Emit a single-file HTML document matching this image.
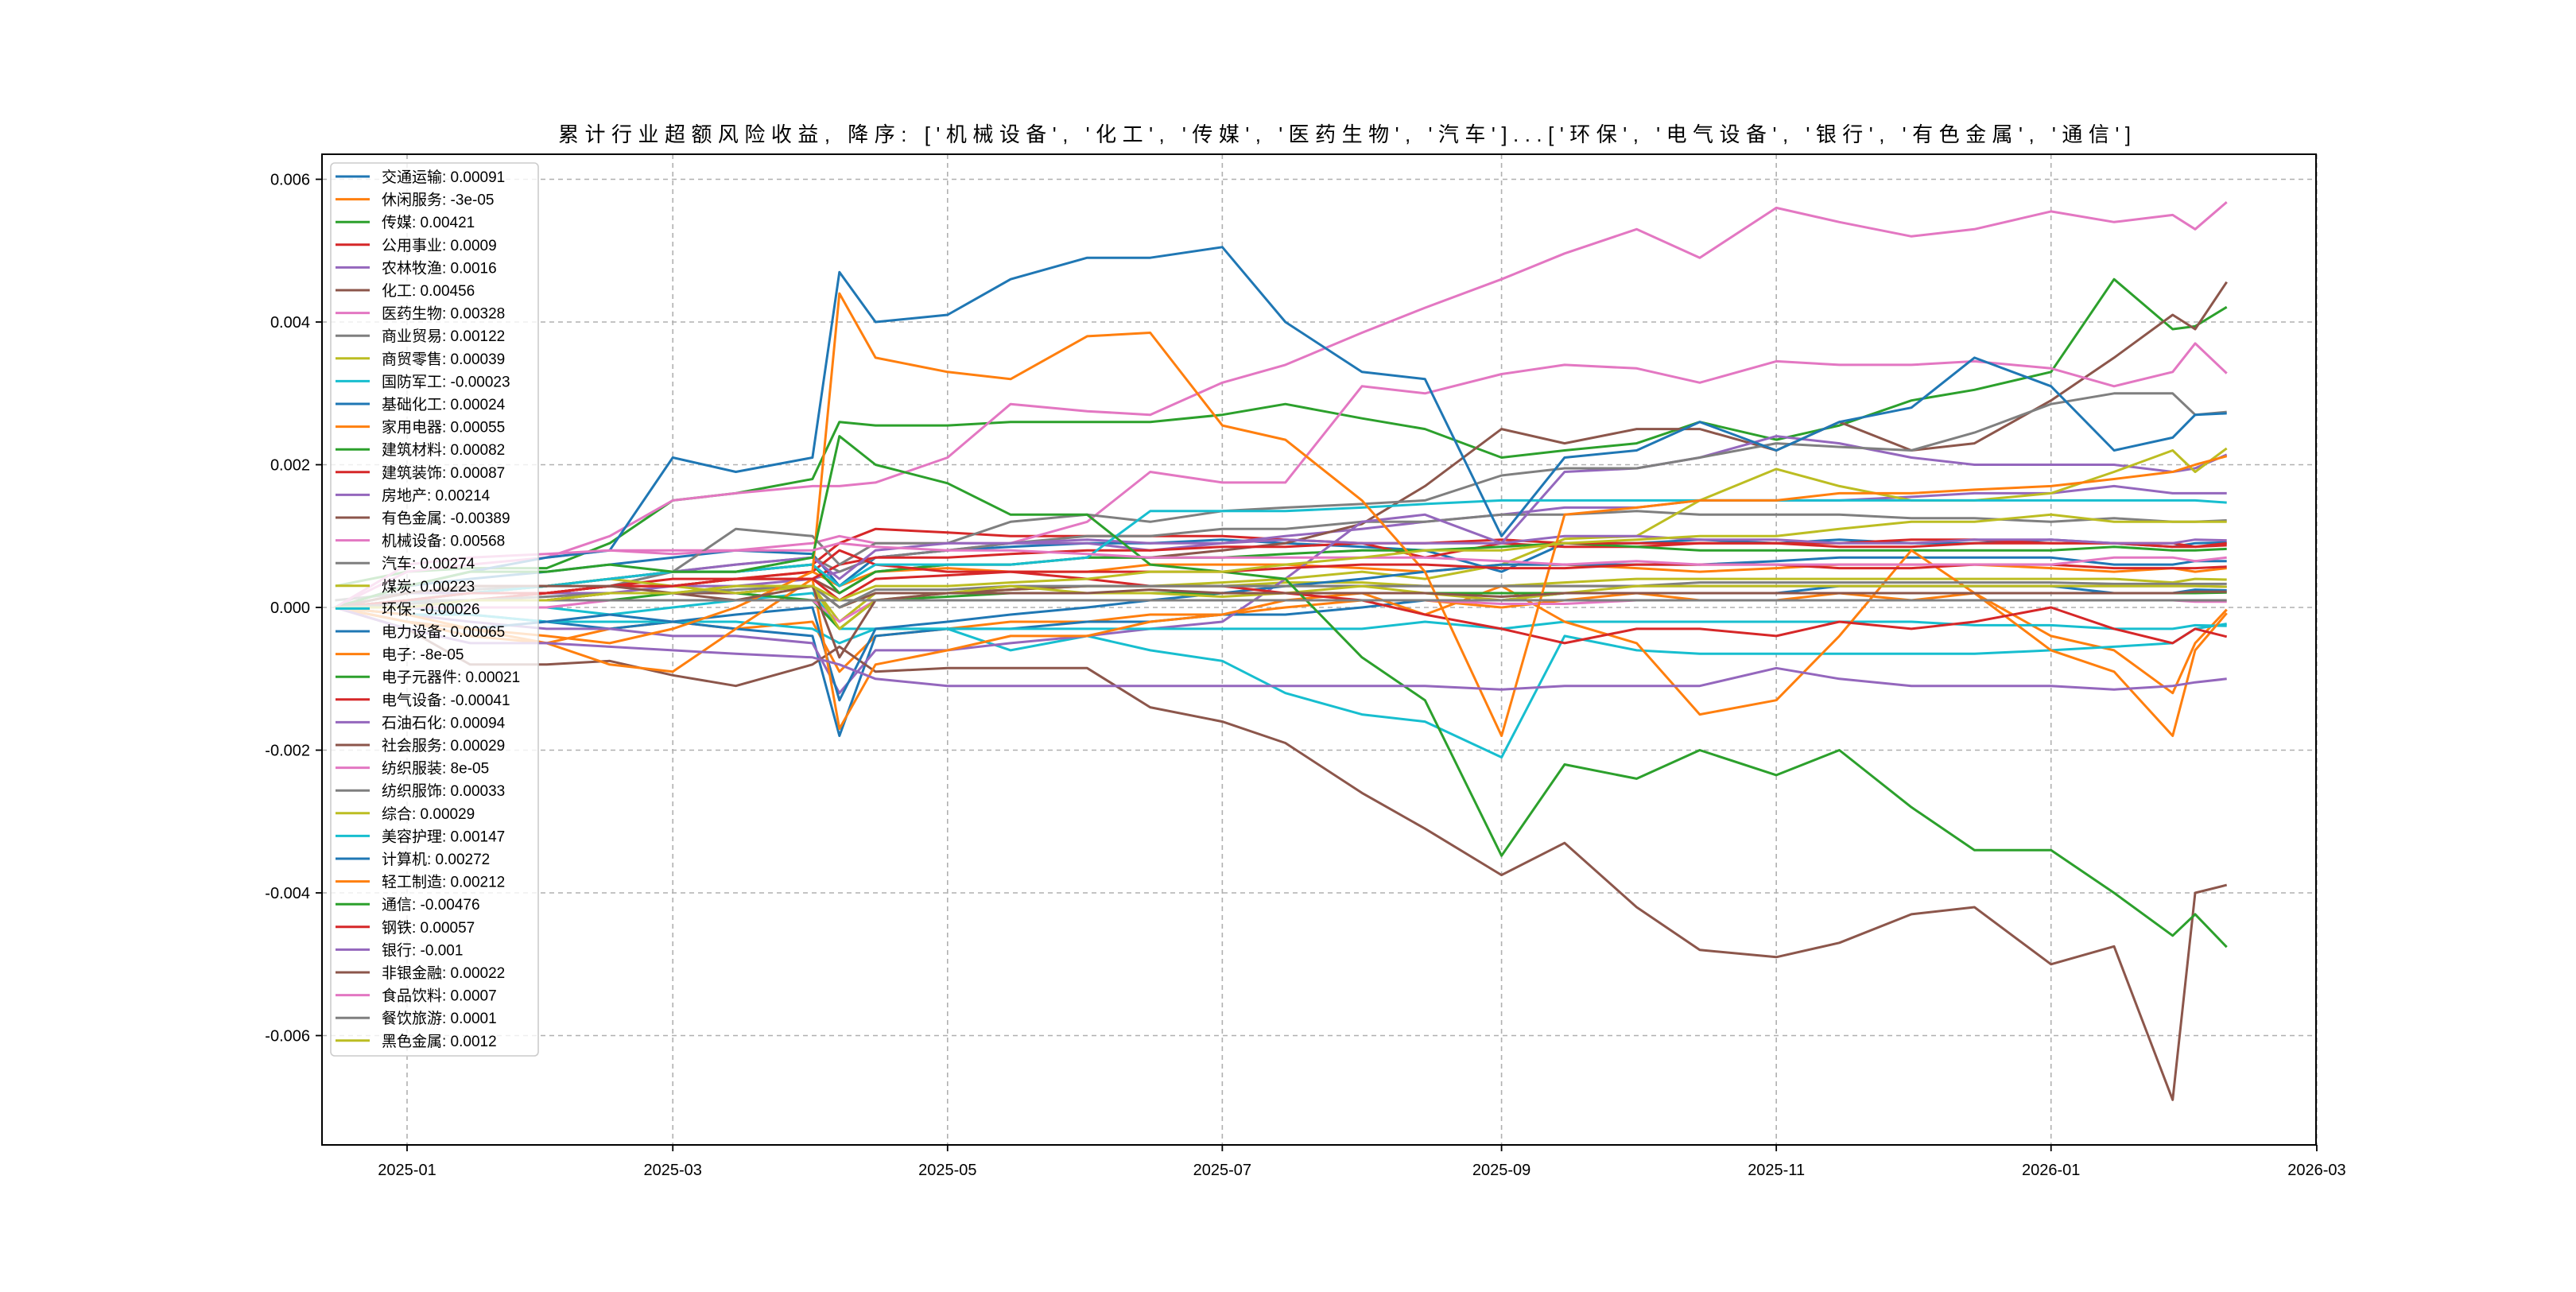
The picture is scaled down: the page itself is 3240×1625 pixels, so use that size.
<!DOCTYPE html>
<html><head><meta charset="utf-8"><style>
html,body{margin:0;padding:0;background:#fff}
svg text{font-family:"Liberation Sans","Noto Sans CJK SC",sans-serif}
</style></head><body>
<svg id="chart" width="3240" height="1620" xmlns="http://www.w3.org/2000/svg">
<rect width="3240" height="1620" fill="#fff"/>
<text x="702" y="178" font-size="26" textLength="1978" lengthAdjust="spacing">累计行业超额风险收益,  降序: ['机械设备', '化工', '传媒', '医药生物', '汽车']...['环保', '电气设备', '银行', '有色金属', '通信']</text>
<g id="grid"></g>
<defs><clipPath id="clip"><rect x="405" y="194" width="2508" height="1246"/></clipPath></defs>
<g id="lines" clip-path="url(#clip)"></g>
<rect x="405" y="194" width="2508" height="1246" fill="none" stroke="#000" stroke-width="2"/>
<g id="ticks"></g>
<g id="legend"></g>
</svg>
<script>
const dates=["2024-12-16","2025-01-01","2025-01-15","2025-02-01","2025-02-15","2025-03-01","2025-03-15","2025-04-01","2025-04-07","2025-04-15","2025-05-01","2025-05-15","2025-06-01","2025-06-15","2025-07-01","2025-07-15","2025-08-01","2025-08-15","2025-09-01","2025-09-15","2025-10-01","2025-10-15","2025-11-01","2025-11-15","2025-12-01","2025-12-15","2026-01-01","2026-01-15","2026-01-28","2026-02-02","2026-02-09"];
const names=["交通运输","休闲服务","传媒","公用事业","农林牧渔","化工","医药生物","商业贸易","商贸零售","国防军工","基础化工","家用电器","建筑材料","建筑装饰","房地产","有色金属","机械设备","汽车","煤炭","环保","电力设备","电子","电子元器件","电气设备","石油石化","社会服务","纺织服装","纺织服饰","综合","美容护理","计算机","轻工制造","通信","钢铁","银行","非银金融","食品饮料","餐饮旅游","黑色金属"];
const finalLabels=["0.00091","-3e-05","0.00421","0.0009","0.0016","0.00456","0.00328","0.00122","0.00039","-0.00023","0.00024","0.00055","0.00082","0.00087","0.00214","-0.00389","0.00568","0.00274","0.00223","-0.00026","0.00065","-8e-05","0.00021","-0.00041","0.00094","0.00029","8e-05","0.00033","0.00029","0.00147","0.00272","0.00212","-0.00476","0.00057","-0.001","0.00022","0.0007","0.0001","0.0012"];
// values in units of 0.001
const s0=[0,0.3,0.4,0.5,0.6,0.7,0.8,0.75,0.3,0.7,0.8,0.85,0.9,0.9,0.95,0.9,0.85,0.8,0.5,0.9,0.9,0.95,0.9,0.95,0.9,0.9,0.95,0.9,0.85,0.9,0.91];
const s1=[0,-0.2,-0.4,-0.5,-0.3,-0.2,-0.3,-0.2,-0.9,-0.4,-0.3,-0.2,-0.2,-0.1,-0.1,0,0.1,0.1,0,0.1,0.2,0.1,0.1,0.2,0.1,0.2,-0.4,-0.6,-1.2,-0.5,-0.03];
const s2=[0.3,0.5,0.55,0.55,0.9,1.5,1.6,1.8,2.6,2.55,2.55,2.6,2.6,2.6,2.7,2.85,2.65,2.5,2.1,2.2,2.3,2.6,2.35,2.55,2.9,3.05,3.3,4.6,3.9,3.94,4.21];
const s3=[0,0.2,0.3,0.3,0.4,0.5,0.5,0.6,0.9,1.1,1.05,1.0,1.0,1.0,1.0,0.95,0.9,0.7,0.9,0.85,0.85,0.9,0.9,0.9,0.95,0.95,0.9,0.9,0.9,0.85,0.9];
const s4=[0,0.1,0.1,0.2,0.2,0.3,0.3,0.4,0.5,0.7,0.8,0.9,0.9,0.8,0.9,1.0,1.1,1.2,1.3,1.4,1.4,1.5,1.5,1.5,1.55,1.6,1.6,1.7,1.6,1.6,1.6];
const s5=[0,0.1,0.2,0.2,0.3,0.3,0.4,0.4,0.2,0.5,0.6,0.6,0.7,0.7,0.8,0.9,1.17,1.7,2.5,2.3,2.5,2.5,2.2,2.6,2.2,2.3,2.9,3.5,4.1,3.9,4.56];
const s6=[0,0.5,0.6,0.7,0.8,0.8,0.8,0.9,1.0,0.9,0.9,0.9,1.2,1.9,1.75,1.75,3.1,3.0,3.27,3.4,3.35,3.15,3.45,3.4,3.4,3.45,3.35,3.1,3.3,3.7,3.28];
const s7=[0,0.1,0.2,0.2,0.3,0.5,0.6,0.7,0.5,0.7,0.8,0.9,1.0,1.0,1.1,1.1,1.2,1.2,1.3,1.3,1.35,1.3,1.3,1.3,1.25,1.25,1.2,1.25,1.2,1.2,1.22];
const s8=[0,0,0.1,0.1,0.2,0.2,0.2,0.3,-0.2,0.2,0.2,0.25,0.3,0.3,0.3,0.35,0.35,0.3,0.3,0.35,0.4,0.4,0.4,0.4,0.4,0.4,0.4,0.4,0.35,0.4,0.39];
const s9=[0,0.1,0,0,-0.1,0,0.1,0.2,-0.3,-0.3,-0.3,-0.6,-0.4,-0.6,-0.75,-1.2,-1.5,-1.6,-2.1,-0.4,-0.6,-0.65,-0.65,-0.65,-0.65,-0.65,-0.6,-0.55,-0.5,-0.3,-0.23];
const s10=[0,0,-0.1,-0.2,-0.3,-0.2,-0.3,-0.4,-1.8,-0.4,-0.3,-0.3,-0.2,-0.2,-0.1,-0.1,0,0.1,0.1,0.2,0.2,0.2,0.2,0.3,0.3,0.3,0.3,0.2,0.2,0.25,0.24];
const s11=[0,0.1,0.1,0.2,0.3,0.3,0.4,0.5,0.3,0.5,0.55,0.5,0.5,0.6,0.6,0.6,0.55,0.5,0.6,0.6,0.55,0.5,0.55,0.6,0.6,0.6,0.55,0.5,0.55,0.5,0.55];
const s12=[0,0.2,0.2,0.3,0.4,0.5,0.5,0.6,0.2,0.5,0.6,0.6,0.7,0.7,0.7,0.75,0.8,0.8,0.85,0.9,0.85,0.8,0.8,0.8,0.8,0.8,0.8,0.85,0.8,0.8,0.82];
const s13=[0,0.1,0.2,0.2,0.3,0.3,0.4,0.4,0.6,0.7,0.7,0.75,0.8,0.8,0.85,0.85,0.9,0.9,0.95,0.9,0.9,0.9,0.9,0.85,0.85,0.9,0.9,0.9,0.85,0.85,0.87];
const s14=[0,-0.1,-0.2,-0.3,-0.3,-0.4,-0.4,-0.5,-1.2,-0.6,-0.6,-0.5,-0.4,-0.3,-0.2,0.4,1.2,1.3,0.9,1.9,1.95,2.1,2.4,2.3,2.1,2.0,2.0,2.0,1.9,1.95,2.14];
const s15=[0,-0.3,-0.8,-0.8,-0.75,-0.95,-1.1,-0.8,-0.55,-0.9,-0.85,-0.85,-0.85,-1.4,-1.6,-1.9,-2.6,-3.1,-3.75,-3.3,-4.2,-4.8,-4.9,-4.7,-4.3,-4.2,-5.0,-4.75,-6.9,-4.0,-3.89];
const s16=[0,0.3,0.5,0.7,1.0,1.5,1.6,1.7,1.7,1.75,2.1,2.85,2.75,2.7,3.15,3.4,3.85,4.2,4.6,4.96,5.3,4.9,5.6,5.4,5.2,5.3,5.55,5.4,5.5,5.3,5.68];
const s17=[0.1,0.2,0.25,0.3,0.4,0.5,1.1,1.0,0.6,0.9,0.9,1.2,1.3,1.2,1.35,1.4,1.45,1.5,1.85,1.95,1.95,2.1,2.3,2.25,2.2,2.45,2.85,3.0,3.0,2.7,2.74];
const s18=[0,0.1,0.1,0.1,0.2,0.2,0.3,0.3,0,0.2,0.2,0.25,0.3,0.3,0.35,0.4,0.5,0.4,0.6,0.96,1.0,1.5,1.94,1.7,1.5,1.5,1.6,1.9,2.2,1.9,2.23];
const s19=[0,-0.1,-0.1,-0.2,-0.2,-0.2,-0.2,-0.3,-0.5,-0.3,-0.3,-0.3,-0.3,-0.3,-0.3,-0.3,-0.3,-0.2,-0.3,-0.2,-0.2,-0.2,-0.2,-0.2,-0.2,-0.25,-0.25,-0.3,-0.3,-0.25,-0.26];
const s20=[0,-0.2,-0.3,-0.2,-0.1,-0.2,-0.1,0,-1.3,-0.3,-0.2,-0.1,0,0.1,0.2,0.3,0.4,0.5,0.6,0.6,0.6,0.6,0.65,0.7,0.7,0.7,0.7,0.6,0.6,0.65,0.65];
const s21=[0,-0.1,-0.3,-0.5,-0.8,-0.9,-0.3,0.4,-1.7,-0.8,-0.6,-0.4,-0.4,-0.2,-0.1,0.1,0.2,-0.1,0.3,-0.2,-0.5,-1.5,-1.3,-0.4,0.8,0.2,-0.6,-0.9,-1.8,-0.6,-0.08];
const s22=[0,0,0.1,0.1,0.1,0.2,0.2,0.1,-0.3,0.1,0.15,0.2,0.2,0.2,0.2,0.2,0.2,0.2,0.2,0.2,0.2,0.2,0.2,0.2,0.2,0.2,0.2,0.2,0.2,0.2,0.21];
const s23=[0,0.1,0.1,0.2,0.3,0.4,0.4,0.5,0.8,0.6,0.5,0.5,0.4,0.3,0.3,0.2,0.1,-0.1,-0.3,-0.5,-0.3,-0.3,-0.4,-0.2,-0.3,-0.2,0,-0.3,-0.5,-0.3,-0.41];
const s24=[0,0.2,0.2,0.3,0.4,0.5,0.6,0.7,0.4,0.8,0.9,0.9,0.95,0.9,0.9,0.95,0.9,0.9,0.9,1.0,1.0,0.95,0.95,0.9,0.9,0.95,0.95,0.9,0.9,0.95,0.94];
const s25=[0,0.1,0.1,0.1,0.2,0.2,0.2,0.3,0,0.2,0.2,0.25,0.3,0.3,0.3,0.3,0.3,0.3,0.3,0.3,0.3,0.3,0.3,0.3,0.3,0.3,0.3,0.3,0.3,0.3,0.29];
const s26=[0,0,0,0,0.1,0.1,0.1,0.1,-0.2,0.1,0.1,0.1,0.1,0.1,0.1,0.1,0.1,0.1,0.05,0.05,0.1,0.1,0.1,0.1,0.1,0.1,0.1,0.1,0.1,0.08,0.08];
const s27=[0,0.1,0.1,0.15,0.2,0.2,0.25,0.3,0,0.25,0.25,0.3,0.3,0.3,0.3,0.3,0.3,0.3,0.3,0.3,0.3,0.35,0.35,0.35,0.35,0.35,0.35,0.33,0.33,0.33,0.33];
const s28=[0,0.1,0.2,0.3,0.4,0.3,0.2,0.3,-0.3,0.1,0.2,0.3,0.2,0.2,0.15,0.2,0.3,0.2,0.1,0.2,0.3,0.3,0.3,0.3,0.3,0.3,0.3,0.3,0.3,0.3,0.29];
const s29=[0,0.1,0.2,0.3,0.4,0.5,0.5,0.6,0.3,0.6,0.6,0.6,0.7,1.35,1.35,1.35,1.4,1.45,1.5,1.5,1.5,1.5,1.5,1.5,1.5,1.5,1.5,1.5,1.5,1.5,1.47];
const s30=[0,0.3,0.5,0.7,0.8,2.1,1.9,2.1,4.7,4.0,4.1,4.6,4.9,4.9,5.05,4.0,3.3,3.2,1.0,2.1,2.2,2.6,2.2,2.6,2.8,3.5,3.1,2.2,2.38,2.7,2.72];
const s31=[0,-0.2,-0.3,-0.4,-0.5,-0.3,0,0.5,4.4,3.5,3.3,3.2,3.8,3.85,2.55,2.35,1.5,0.5,-1.8,1.3,1.4,1.5,1.5,1.6,1.6,1.65,1.7,1.8,1.9,2.0,2.12];
const s32=[0,0.3,0.5,0.5,0.6,0.5,0.5,0.7,2.4,2.0,1.74,1.3,1.3,0.6,0.5,0.4,-0.7,-1.3,-3.48,-2.2,-2.4,-2.0,-2.35,-2.0,-2.8,-3.4,-3.4,-4.0,-4.6,-4.3,-4.76];
const s33=[0,0.1,0.2,0.2,0.3,0.3,0.4,0.4,0.1,0.4,0.45,0.5,0.5,0.5,0.5,0.55,0.6,0.6,0.55,0.55,0.6,0.6,0.6,0.55,0.55,0.6,0.6,0.55,0.55,0.55,0.57];
const s34=[0,-0.3,-0.5,-0.5,-0.55,-0.6,-0.65,-0.7,-0.8,-1.0,-1.1,-1.1,-1.1,-1.1,-1.1,-1.1,-1.1,-1.1,-1.15,-1.1,-1.1,-1.1,-0.85,-1.0,-1.1,-1.1,-1.1,-1.15,-1.1,-1.05,-1.0];
const s35=[0,0.2,0.3,0.3,0.3,0.2,0.1,0.3,-0.7,0.1,0.2,0.2,0.2,0.25,0.2,0.2,0.2,0.2,0.15,0.2,0.2,0.2,0.2,0.2,0.2,0.2,0.2,0.2,0.2,0.22,0.22];
const s36=[0,0.6,0.7,0.75,0.8,0.75,0.8,0.8,0.9,0.85,0.8,0.8,0.75,0.7,0.7,0.7,0.7,0.7,0.65,0.6,0.65,0.6,0.6,0.6,0.6,0.6,0.6,0.7,0.7,0.65,0.7];
const s37=[0,0.05,0.1,0.1,0.1,0.1,0.1,0.1,0.1,0.1,0.1,0.1,0.1,0.1,0.1,0.1,0.1,0.1,0.1,0.1,0.1,0.1,0.1,0.1,0.1,0.1,0.1,0.1,0.1,0.1,0.1];
const s38=[0,0,0.1,0.1,0.2,0.2,0.3,0.3,0.1,0.3,0.3,0.35,0.4,0.5,0.5,0.6,0.7,0.8,0.8,0.9,0.95,1.0,1.0,1.1,1.2,1.2,1.3,1.2,1.2,1.2,1.2];
const yTicks=[-0.006,-0.004,-0.002,0,0.002,0.004,0.006];
const yTickLabels=["-0.006","-0.004","-0.002","0.000","0.002","0.004","0.006"];
const xTicks=["2025-01-01","2025-03-01","2025-05-01","2025-07-01","2025-09-01","2025-11-01","2026-01-01","2026-03-01"];
const xTickLabels=["2025-01","2025-03","2025-05","2025-07","2025-09","2025-11","2026-01","2026-03"];

const series=[s0,s1,s2,s3,s4,s5,s6,s7,s8,s9,s10,s11,s12,s13,s14,s15,s16,s17,s18,s19,s20,s21,s22,s23,s24,s25,s26,s27,s28,s29,s30,s31,s32,s33,s34,s35,s36,s37,s38];
const palette=["#1f77b4","#ff7f0e","#2ca02c","#d62728","#9467bd","#8c564b","#e377c2","#7f7f7f","#bcbd22","#17becf"];
const NS="http://www.w3.org/2000/svg";
const t0=Date.UTC(2025,0,1);
function dayOf(s){const p=s.split("-");return (Date.UTC(+p[0],+p[1]-1,+p[2])-t0)/86400000;}
function xS(s){return 512+dayOf(s)*5.665;}
function yS(v){return 764-v/0.002*179.5;}
function mk(tag,attrs,parent){const e=document.createElementNS(NS,tag);for(const k in attrs)e.setAttribute(k,attrs[k]);parent.appendChild(e);return e;}
const grid=document.getElementById("grid"),ticks=document.getElementById("ticks"),lines=document.getElementById("lines"),legend=document.getElementById("legend");
yTicks.forEach((v,i)=>{const y=yS(v);
 const g=mk("line",{x1:405,x2:2913,y1:y,y2:y,stroke:"#b0b0b0","stroke-width":1.6,"stroke-dasharray":"6,5"},grid);
 
 
 mk("line",{x1:397,x2:405,y1:y,y2:y,stroke:"#000","stroke-width":1.8},ticks);
 const t=mk("text",{x:390,y:y+7,"font-size":20,"text-anchor":"end"},ticks);t.textContent=yTickLabels[i];
 
 
});
xTicks.forEach((d,i)=>{const x=xS(d);
 const g=mk("line",{x1:x,x2:x,y1:194,y2:1440,stroke:"#b0b0b0","stroke-width":1.6,"stroke-dasharray":"6,5"},grid);
 
 
 mk("line",{x1:x,x2:x,y1:1440,y2:1448,stroke:"#000","stroke-width":1.8},ticks);
 const t=mk("text",{x:x,y:1478,"font-size":20,"text-anchor":"middle"},ticks);t.textContent=xTickLabels[i];
 
 
});
series.forEach((s,i)=>{
 const pts=s.map((v,j)=>xS(dates[j]).toFixed(1)+","+yS(v/1000).toFixed(1)).join(" ");
 const p=mk("polyline",{points:pts,fill:"none",stroke:palette[i%10],"stroke-width":3,"stroke-linejoin":"round"},lines);
 
 
});
const box=mk("rect",{x:416,y:205,width:261,height:1123,rx:5,fill:"#fff","fill-opacity":0.8,stroke:"#cccccc","stroke-width":1.6},legend);


names.forEach((n,i)=>{const y=222+i*28.6;
 const g=mk("g",{},legend);
 
 
 mk("line",{x1:422,x2:465,y1:y,y2:y,stroke:palette[i%10],"stroke-width":3},g);
 const t=mk("text",{x:480,y:y+7,"font-size":19},g);t.textContent=n+": "+finalLabels[i];
});
</script>
</body></html>
